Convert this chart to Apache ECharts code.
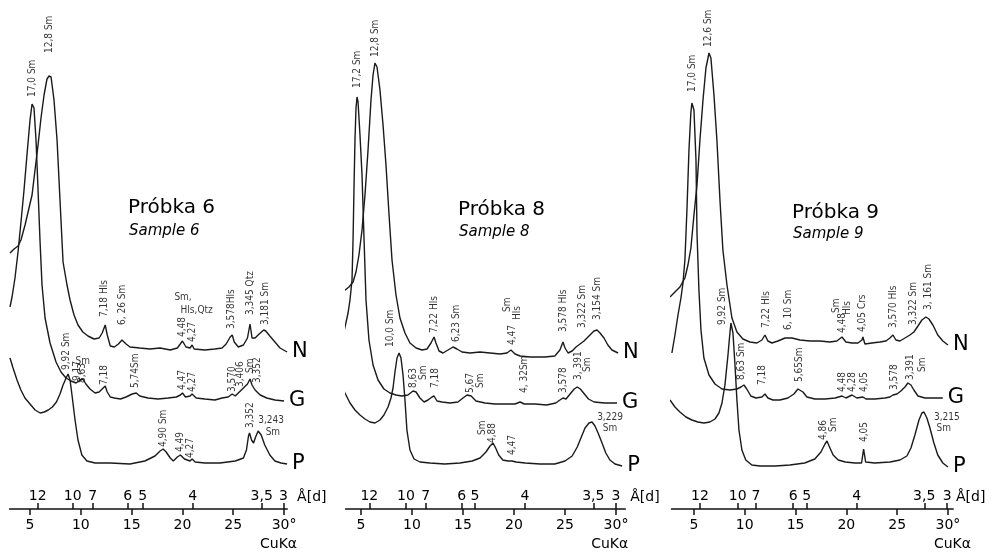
<!DOCTYPE html>
<html><head><meta charset="utf-8">
<script src="https://cdn.jsdelivr.net/npm/echarts/dist/echarts.min.js"></script>
<style>html,body{margin:0;padding:0;background:#fff}#c{width:992px;height:553px}</style>
</head><body><div id="c"></div><script>
// ---- data: [2theta (deg), intensity offset] ----
const p6N = [[3.03,256],[3.43,260],[3.82,263],[4.11,269],[4.51,284],[4.9,301],[5.2,314],[5.49,339],[5.79,364],[6.08,391],[6.38,414],[6.67,430],[6.87,433],[7.07,432],[7.36,409],[7.66,369],[7.95,309],[8.25,247],[8.64,224],[8.94,209],[9.33,194],[9.72,184],[10.2,177],[10.7,173],[11.3,170],[11.8,171],[12.1,176],[12.4,184],[12.6,174],[12.9,163],[13.3,162],[13.7,165],[14.05,169],[14.45,165],[14.84,162],[15.8,161],[16.8,160],[17.8,161],[18.8,159],[19.5,161],[20.0,168],[20.35,162],[20.75,161],[20.95,164],[21.15,160],[22.2,159],[23.2,160],[23.9,161],[24.3,165],[24.7,172],[24.9,174],[25.1,167],[25.5,162],[26.0,164],[26.4,171],[26.65,185],[26.85,171],[27.15,171],[27.55,175],[28.0,179],[28.2,178],[28.6,173],[29.1,167],[29.6,161],[30.3,157]];
const p6G = [[3.03,202],[3.23,212],[3.52,231],[3.82,257],[4.11,287],[4.41,319],[4.7,354],[5.0,389],[5.2,405],[5.39,401],[5.59,369],[5.79,319],[5.98,269],[6.18,224],[6.48,191],[6.97,166],[7.56,147],[8.05,137],[8.54,131],[9.04,128],[9.53,126],[9.8,128],[10.2,130],[10.5,125],[10.9,120],[11.4,116],[11.8,117],[12.1,120],[12.4,123],[12.6,117],[12.9,112],[13.3,111],[13.9,110],[14.45,112],[15.05,115],[15.45,116],[15.8,113],[16.6,111],[17.6,110],[18.6,111],[19.4,112],[19.8,114],[20.0,116],[20.3,112],[20.75,113],[20.95,115],[21.35,111],[22.2,110],[23.2,109],[23.9,111],[24.5,112],[24.9,115],[25.2,113],[25.6,117],[26.0,121],[26.4,125],[26.65,130],[26.85,124],[27.15,119],[27.65,114],[28.3,111],[29.1,109],[30.0,108]];
const p6P = [[3.03,151],[3.33,141],[3.72,129],[4.1,119],[4.5,111],[5.0,105],[5.5,99],[6.0,96],[6.4,97],[6.8,99],[7.2,102],[7.6,107],[7.95,115],[8.25,124],[8.55,131],[8.74,135],[8.94,129],[9.13,114],[9.43,89],[9.72,69],[10.1,54],[10.6,48],[11.4,46],[12.9,46],[14.84,45],[16.3,48],[17.3,53],[17.8,58],[18.1,60],[18.4,57],[18.8,51],[19.1,48],[19.5,52],[19.8,54],[20.2,50],[20.75,48],[20.95,50],[21.25,47],[22.2,46],[23.7,46],[25.2,48],[26.0,51],[26.3,59],[26.5,73],[26.6,76],[26.8,69],[27.0,66],[27.2,72],[27.45,78],[27.75,74],[28.1,64],[28.6,54],[29.1,48],[29.7,46],[30.3,45]];

const p8N = [[2.84,212],[3.33,218],[3.82,222],[4.22,227],[4.51,237],[4.8,254],[5.1,279],[5.39,314],[5.69,359],[5.98,409],[6.18,434],[6.37,446],[6.57,442],[6.86,419],[7.16,384],[7.45,344],[7.75,294],[8.04,249],[8.43,214],[8.82,191],[9.31,176],[9.8,166],[10.4,161],[10.98,159],[11.47,160],[11.86,166],[12.16,172],[12.35,166],[12.65,158],[13.04,156],[13.53,159],[14.02,162],[14.41,160],[14.9,157],[15.69,156],[16.67,157],[17.65,156],[18.63,155],[19.31,156],[19.7,159],[20.1,155],[20.6,153],[21.57,152],[23.04,152],[24.0,153],[24.5,159],[24.8,167],[25.0,161],[25.3,156],[25.7,158],[26.08,162],[26.47,165],[26.86,168],[27.35,173],[27.84,178],[28.14,179],[28.43,176],[28.82,171],[29.2,164],[29.6,159],[30.2,156]];
const p8G = [[2.84,156],[3.14,169],[3.43,182],[3.73,196],[3.92,209],[4.12,229],[4.22,269],[4.31,319],[4.41,369],[4.51,401],[4.61,412],[4.71,407],[4.9,374],[5.1,334],[5.3,269],[5.49,209],[5.78,169],[6.18,144],[6.67,129],[7.25,120],[7.84,116],[8.43,114],[9.0,113],[9.6,114],[10.1,118],[10.4,117],[10.78,111],[11.18,107],[11.57,109],[11.96,112],[12.16,113],[12.45,108],[12.94,107],[13.73,106],[14.5,107],[15.0,111],[15.4,114],[15.8,113],[16.27,108],[17.16,106],[18.14,105],[19.1,105],[20.1,105],[20.6,107],[21.0,105],[22.06,105],[23.2,104],[24.1,106],[24.5,109],[24.8,111],[25.1,110],[25.5,115],[25.9,120],[26.2,122],[26.5,120],[26.9,115],[27.3,110],[27.85,107],[28.9,106],[30.1,106]];
const p8P = [[2.94,127],[3.43,116],[3.92,106],[4.41,99],[4.9,94],[5.39,90],[5.88,87],[6.37,86],[6.86,89],[7.25,94],[7.65,102],[7.94,111],[8.14,121],[8.33,137],[8.53,151],[8.73,156],[8.92,151],[9.12,134],[9.31,109],[9.5,79],[9.8,59],[10.2,50],[10.78,47],[11.76,46],[13.2,45],[14.7,46],[15.9,48],[16.67,51],[17.25,57],[17.65,63],[17.94,66],[18.2,61],[18.5,54],[18.9,49],[19.4,48],[19.8,48],[20.2,47],[21.1,46],[22.55,45],[24.0,45],[25.0,48],[25.7,53],[26.2,62],[26.6,72],[26.96,81],[27.35,86],[27.65,87],[27.94,83],[28.24,76],[28.63,66],[29.0,56],[29.4,49],[29.9,45],[30.6,43]];

const p9N = [[2.64,212],[3.13,217],[3.62,222],[4.11,231],[4.41,244],[4.7,261],[5.0,294],[5.3,324],[5.59,369],[5.89,409],[6.18,441],[6.48,456],[6.67,451],[6.97,414],[7.26,369],[7.56,309],[7.85,259],[8.25,224],[8.74,191],[9.23,177],[9.82,170],[10.5,167],[11.2,166],[11.69,169],[11.99,174],[12.28,168],[12.68,166],[13.27,168],[13.96,171],[14.65,171],[15.43,169],[16.42,168],[17.4,168],[18.39,167],[19.07,168],[19.57,172],[19.96,167],[20.55,166],[21.14,166],[21.54,169],[21.63,172],[21.83,165],[22.52,166],[23.3,167],[23.9,168],[24.29,171],[24.59,174],[24.88,169],[25.28,168],[25.77,171],[26.26,174],[26.65,177],[27.05,183],[27.44,189],[27.83,192],[28.13,190],[28.52,184],[29.0,174],[29.5,168],[30.0,164]];
const p9G = [[2.83,156],[3.13,174],[3.43,194],[3.72,211],[3.92,226],[4.11,249],[4.31,299],[4.51,359],[4.7,397],[4.8,406],[5.0,399],[5.2,349],[5.3,276],[5.49,219],[5.69,179],[5.98,151],[6.48,134],[7.07,125],[7.76,120],[8.54,119],[9.23,120],[9.63,122],[9.92,124],[10.2,120],[10.6,113],[11.1,111],[11.69,112],[11.99,115],[12.28,111],[12.78,109],[13.46,109],[14.25,111],[14.84,115],[15.24,120],[15.43,121],[15.73,117],[16.12,112],[16.9,110],[17.9,110],[18.9,111],[19.57,113],[19.96,111],[20.55,114],[21.04,111],[21.63,112],[21.93,110],[22.8,110],[23.8,111],[24.29,112],[24.59,114],[24.98,115],[25.37,118],[25.77,122],[26.06,126],[26.36,124],[26.65,119],[27.05,113],[27.74,111],[28.72,111],[29.5,111]];
const p9P = [[2.64,109],[3.13,102],[3.62,97],[4.21,92],[4.8,89],[5.39,87],[5.98,86],[6.57,87],[7.07,90],[7.46,96],[7.76,106],[8.05,124],[8.35,154],[8.54,176],[8.64,186],[8.84,176],[9.04,144],[9.23,109],[9.43,79],[9.72,59],[10.1,49],[10.7,44],[11.5,43],[13.0,43],[14.45,44],[15.9,46],[16.9,50],[17.5,57],[17.9,65],[18.1,68],[18.3,63],[18.7,54],[19.2,49],[19.9,47],[20.85,46],[21.5,46],[21.7,60],[21.9,47],[22.8,46],[24.3,47],[25.28,49],[25.96,53],[26.36,61],[26.75,74],[27.15,89],[27.44,96],[27.64,97],[27.93,91],[28.23,81],[28.62,66],[29.0,54],[29.5,46],[30.0,42]];

// ---- axis tick labels ----
const degTicks = [5, 10, 15, 20, 25, 30];
const dLabels = ['12', '10', '7', '6', '5', '4', '3,5', '3'];
const d6Pos = [5.76, 9.2, 11.17, 14.62, 16.1, 21.0, 27.8, 29.93];
const d8Pos = [5.82, 9.41, 11.34, 14.87, 16.18, 21.08, 27.77, 30.0];
const d9Pos = [5.59, 9.3, 11.1, 14.77, 16.09, 21.01, 27.67, 29.93];

// ---- peak annotations: [2theta, intensity, text] ----
const ann6Rot = [[5.2,412,'17,0 Sm'],[6.87,456,'12,8 Sm'],[12.28,192,'7,18 Hls'],[14.06,184,'6, 26 Sm'],[19.96,172,'4,48'],[20.94,167,'4,27'],[24.78,180,'3,578Hls'],[26.65,194,'3,345 Qtz'],[28.2,184,'3,181 Sm'],
  [8.54,139,'9,92 Sm'],[9.63,128,'9,17'],[10.2,126,'8,63'],[12.28,124,'7,18'],[15.33,121,'5,74Sm'],[19.96,119,'4,47'],[20.94,117,'4,27'],[24.88,117,'3,570'],[25.67,122,'3,406'],[26.65,136,'Sm'],[27.34,126,'3,352'],
  [18.09,62,'4,90 Sm'],[19.76,57,'4,49'],[20.75,51,'4,27'],[26.65,81,'3,352']];
const ann6Flat = [[20.06,212,'Sm,'],[21.4,199,'Hls,Qtz'],[10.2,148,'Sm'],[28.72,89,'3,243'],[28.9,77,'Sm']];
const ann8Rot = [[4.61,421,'17,2 Sm'],[6.37,452,'12,8 Sm'],[7.84,162,'10,0 Sm'],[12.16,176,'7,22 Hls'],[14.31,167,'6,23 Sm'],[19.31,197,'Sm'],[20.3,189,'Hls'],[19.8,164,'4,47'],[24.8,177,'3,578 Hls'],[26.67,181,'3,322 Sm'],[28.14,189,'3,154 Sm'],
  [10.1,121,'8,63'],[11.08,129,'Sm'],[12.25,121,'7,18'],[15.69,116,'5,67'],[16.67,121,'Sm'],[20.98,116,'4, 32Sm'],[24.8,116,'3,578'],[26.27,129,'3, 391'],[27.16,137,'Sm'],
  [16.86,74,'Sm'],[17.84,66,'4,88'],[19.8,54,'4,47']];
const ann8Flat = [[29.41,92,'3,229'],[29.41,81,'Sm']];
const ann9Rot = [[4.8,417,'17,0 Sm'],[6.38,462,'12,6 Sm'],[7.76,184,'9,92 Sm'],[12.09,181,'7,22 Hls'],[14.25,179,'6, 10 Sm'],[19.07,196,'Sm'],[20.06,194,'Hls'],[19.57,176,'4,48'],[21.63,177,'4,05 Crs'],[24.59,181,'3,570 Hls'],[26.56,184,'3,322 Sm'],[28.03,199,'3, 161 Sm'],
  [9.72,129,'8,63 Sm'],[11.69,124,'7,18'],[15.43,127,'5,65Sm'],[19.57,117,'4,48'],[20.55,117,'4,28'],[21.73,117,'4,05'],[24.69,119,'3,578'],[26.26,129,'3,391'],[27.44,137,'Sm'],
  [17.7,69,'4,86'],[18.68,77,'Sm'],[21.73,67,'4,05']];
const ann9Flat = [[29.9,92,'3,215'],[29.6,81,'Sm']];

const titles = ['Próbka 6', 'Próbka 8', 'Próbka 9'];
const subtitles = ['Sample 6', 'Sample 8', 'Sample 9'];
const traceNames = ['N', 'G', 'P'];

// ---- layout ----
const FONT = 'DejaVu Sans';
const INK = '#111';
const panels = [
  {tr:[p6N,p6G,p6P], min:3.0, max:30.3, left:9.7, width:277.4, dPos:d6Pos, rot:ann6Rot, flat:ann6Flat, tx:128, ty:208, sy:231, dGap:10, cGap:10},
  {tr:[p8N,p8G,p8P], min:3.5, max:30.9, left:345.7, width:279.5, dPos:d8Pos, rot:ann8Rot, flat:ann8Flat, tx:458, ty:210, sy:232, dGap:5, cGap:3},
  {tr:[p9N,p9G,p9P], min:2.8, max:30.5, left:671.6, width:281.4, dPos:d9Pos, rot:ann9Rot, flat:ann9Flat, tx:792, ty:213, sy:234, dGap:3, cGap:18}
];

const annFont = {fontSize: 10, fontFamily: 'DejaVu Sans Condensed', color: '#000'};
const grid = [], xAxis = [], yAxis = [], series = [], graphic = [];
panels.forEach((p, i) => {
  grid.push({left: p.left, width: p.width, top: 0, height: 509, outerBoundsMode: 'none'});
  xAxis.push({
    gridIndex: i, type: 'value', min: p.min, max: p.max, position: 'bottom',
    axisLine: {show: true, lineStyle: {color: INK, width: 1.7}},
    axisTick: {show: true, customValues: degTicks, length: 6, lineStyle: {color: INK, width: 1.5}},
    axisLabel: {customValues: degTicks, formatter: v => (Math.abs(v - 30) < 1e-6 ? '30°' : String(v)), margin: 9, fontSize: 14, fontFamily: FONT, color: '#000'},
    splitLine: {show: false},
    name: 'CuKα', nameLocation: 'end', nameGap: p.cGap, nameMoveOverlap: false,
    nameTextStyle: {align: 'right', verticalAlign: 'top', padding: [28, 0, 0, 0], fontSize: 14, fontFamily: FONT, color: '#000'}
  });
  xAxis.push({
    gridIndex: i, type: 'value', min: p.min, max: p.max, position: 'bottom',
    axisLine: {show: false},
    axisTick: {show: true, inside: true, customValues: p.dPos, length: 6, lineStyle: {color: INK, width: 1.5}},
    axisLabel: {inside: true, customValues: p.dPos, margin: 6, fontSize: 14, fontFamily: FONT, color: '#000',
      formatter: v => { let b = 0; p.dPos.forEach((d, k) => { if (Math.abs(d - v) < Math.abs(p.dPos[b] - v)) b = k; }); return dLabels[b]; }},
    splitLine: {show: false},
    name: 'Å[d]', nameLocation: 'end', nameGap: p.dGap, nameMoveOverlap: false,
    nameTextStyle: {align: 'left', verticalAlign: 'bottom', padding: [0, 0, 5, 0], fontSize: 14, fontFamily: FONT, color: '#000'}
  });
  yAxis.push({gridIndex: i, type: 'value', min: 0, max: 509, show: false});
  p.tr.forEach((d, k) => {
    series.push({
      type: 'line', name: traceNames[k], xAxisIndex: 2 * i, yAxisIndex: i, data: d,
      showSymbol: false, symbol: 'none', clip: false, silent: true,
      lineStyle: {color: '#1a1a1a', width: 1.4},
      endLabel: {show: true, formatter: traceNames[k], fontSize: 21, fontFamily: FONT, color: '#000', distance: 5}
    });
  });
  series.push({
    type: 'scatter', xAxisIndex: 2 * i, yAxisIndex: i, symbolSize: 2, silent: true, clip: false,
    itemStyle: {color: 'rgba(255,255,255,0)'},
    data: p.rot.map(a => ({value: [a[0], a[1]], name: a[2]})),
    label: Object.assign({show: true, position: 'inside', rotate: 90, align: 'left', verticalAlign: 'middle', formatter: '{b}'}, annFont),
    labelLayout: {hideOverlap: false}
  });
  series.push({
    type: 'scatter', xAxisIndex: 2 * i, yAxisIndex: i, symbolSize: 2, silent: true, clip: false,
    itemStyle: {color: 'rgba(255,255,255,0)'},
    data: p.flat.map(a => ({value: [a[0], a[1]], name: a[2]})),
    label: Object.assign({show: true, position: 'inside', align: 'center', verticalAlign: 'middle', formatter: '{b}'}, annFont),
    labelLayout: {hideOverlap: false}
  });
  graphic.push({type: 'text', x: p.tx, y: p.ty, style: {text: titles[i], fontSize: 20, fontFamily: FONT, fill: '#000', verticalAlign: 'middle'}});
  graphic.push({type: 'text', x: p.tx + 1, y: p.sy, style: {text: subtitles[i], fontSize: 15, fontStyle: 'italic', fontFamily: FONT, fill: '#000', verticalAlign: 'middle'}});
});

const chart = echarts.init(document.getElementById('c'), null, {renderer: 'canvas'});
chart.setOption({backgroundColor: '#fff', animation: false, grid, xAxis, yAxis, series, graphic});
</script></body></html>
